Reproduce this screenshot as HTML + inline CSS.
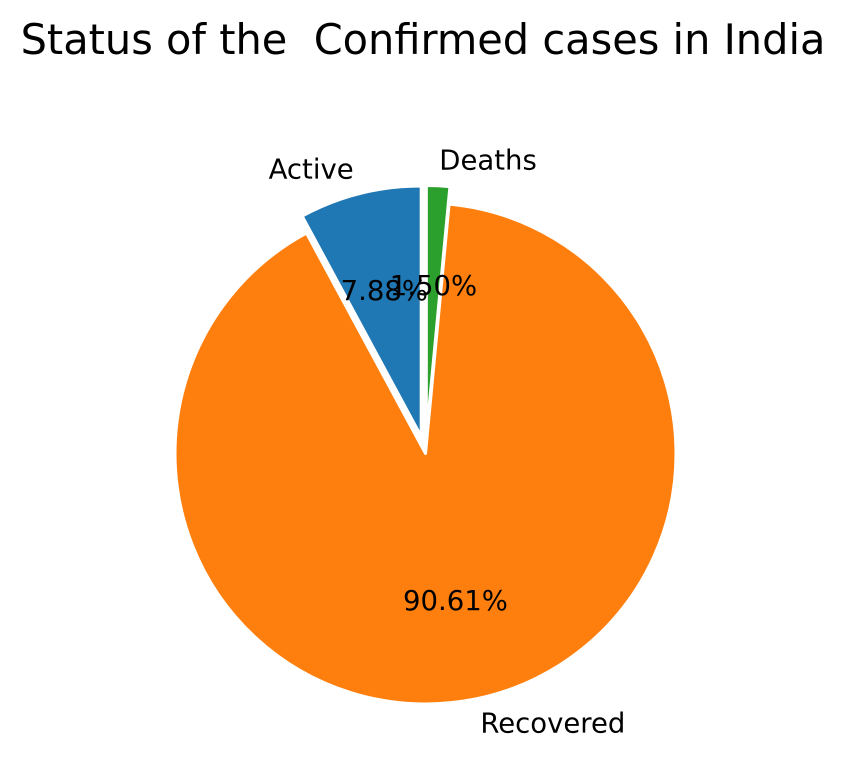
<!DOCTYPE html>
<html><head><meta charset="utf-8"><style>
html,body{margin:0;padding:0;background:#fff;}
svg{display:block;font-family:"DejaVu Sans","Liberation Sans",sans-serif;}
</style></head><body>
<svg id="chart" width="847" height="758" viewBox="0 0 847 758">
<text x="423" y="54" text-anchor="middle" font-size="41.5" fill="#000" style="white-space:pre" xml:space="preserve">Status of the  Confirmed cases in India</text>
<g id="slices"></g>
</svg>
<script>
const categories = ["Active", "Recovered", "Deaths"];
const values = [7.88, 90.61, 1.50];
const colors = ["#1f77b4", "#ff7f0e", "#2ca02c"];
const explode = [0.07, 0, 0.07];

const cx = 425.5, cy = 453.5, R = 250.5;
const NS = "http://www.w3.org/2000/svg";
const g = document.getElementById("slices");
const total = values.reduce((a, b) => a + b, 0);
let start = 90;
const rad = d => d * Math.PI / 180;
values.forEach((v, i) => {
  const sweep = v / total * 360;
  const end = start + sweep;
  const mid = rad((start + end) / 2);
  const ox = cx + explode[i] * R * Math.cos(mid);
  const oy = cy - explode[i] * R * Math.sin(mid);
  const x1 = ox + R * Math.cos(rad(start)), y1 = oy - R * Math.sin(rad(start));
  const x2 = ox + R * Math.cos(rad(end)), y2 = oy - R * Math.sin(rad(end));
  const large = sweep > 180 ? 1 : 0;
  const p = document.createElementNS(NS, "path");
  p.setAttribute("d", `M${ox},${oy} L${x1},${y1} A${R},${R} 0 ${large} 0 ${x2},${y2} Z`);
  p.setAttribute("fill", colors[i]);
  p.setAttribute("stroke", "#fff");
  p.setAttribute("stroke-width", "3");
  p.setAttribute("stroke-linejoin", "round");
  
  
  g.appendChild(p);

  const lx = ox + 1.1 * R * Math.cos(mid), ly = oy - 1.1 * R * Math.sin(mid);
  const t = document.createElementNS(NS, "text");
  t.setAttribute("x", lx);
  t.setAttribute("y", ly + 9);
  t.setAttribute("font-size", "27.5");
  t.setAttribute("text-anchor", Math.cos(mid) < 0 ? "end" : "start");
  t.textContent = categories[i];
  
  
  g.appendChild(t);

  start = end;
});
start = 90;
values.forEach((v, i) => {
  const sweep = v / total * 360;
  const mid = rad(start + sweep / 2);
  const ox = cx + explode[i] * R * Math.cos(mid);
  const oy = cy - explode[i] * R * Math.sin(mid);
  const px = ox + 0.6 * R * Math.cos(mid), py = oy - 0.6 * R * Math.sin(mid);
  const t = document.createElementNS(NS, "text");
  t.setAttribute("x", px);
  t.setAttribute("y", py + 9);
  t.setAttribute("font-size", "27.5");
  t.setAttribute("text-anchor", "middle");
  t.textContent = v.toFixed(2) + "%";
  
  
  g.appendChild(t);
  start += sweep;
});
</script>
</body></html>
